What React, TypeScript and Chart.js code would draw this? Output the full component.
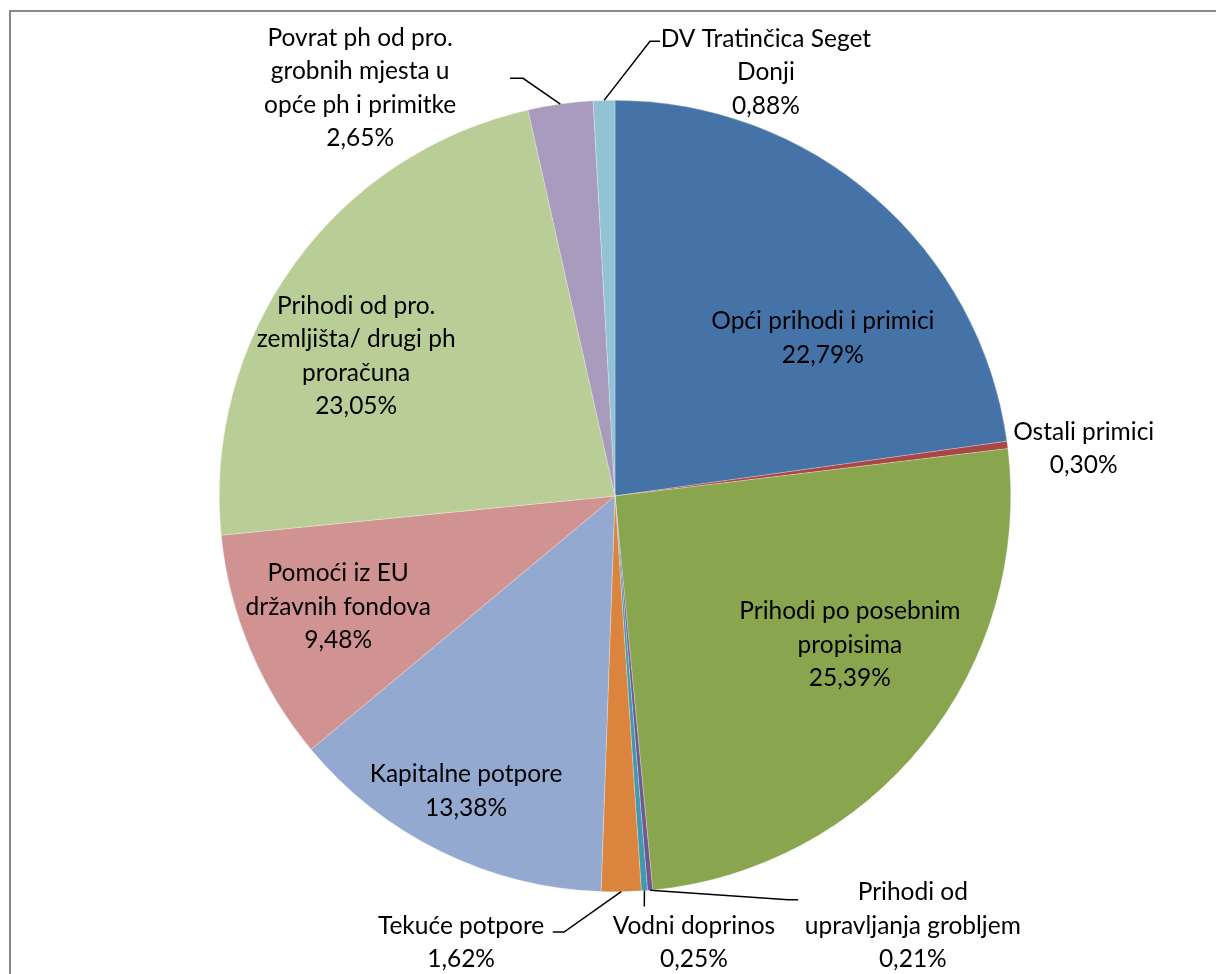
import React, { useEffect, useRef } from "react";
import { Chart, registerables } from "chart.js";

Chart.register(...registerables);

// ---- data ----
const categoryLines: string[][] = [
  ["Opći prihodi i primici"],
  ["Ostali primici"],
  ["Prihodi po posebnim", "propisima"],
  ["Prihodi od", "upravljanja grobljem"],
  ["Vodni doprinos"],
  ["Tekuće potpore"],
  ["Kapitalne potpore"],
  ["Pomoći iz EU", "državnih fondova"],
  ["Prihodi od pro.", "zemljišta/ drugi ph", "proračuna"],
  ["Povrat ph od pro.", "grobnih mjesta u", "opće ph i primitke"],
  ["DV Tratinčica Seget", "Donji"],
];
const categories: string[] = categoryLines.map((l) => l.join(" "));
const shares: number[] = [22.79, 0.3, 25.39, 0.21, 0.25, 1.62, 13.38, 9.48, 23.05, 2.65, 0.88];
const sliceColors: string[] = [
  "#4572A7", "#AA4643", "#89A54E", "#71588F", "#4198AF", "#DB843D",
  "#93A9CF", "#D19392", "#B9CD96", "#A99BBD", "#92C3D5",
];

// ---- label layout (offsets from pie centre, in px at reference radius 396) ----
const REF_R = 396;
const labelCentres: [number, number][] = [
  [208, -158], [469, -47.5], [235, 149], [298, 430], [79, 447], [-154, 447],
  [-149, 295.5], [-277, 111], [-259, -140], [-255, -408], [151, -424],
];
// leader line points after the arc point (offsets from centre), null = no leader
const leaderPoints: ([number, number][] | null)[] = [
  null, null, null,
  [[173.3, 404], [183.3, 404]],
  [[29.3, 410.7]],
  [[-51, 436.3], [-62.3, 436.3]],
  null, null, null,
  [[-92, -418], [-105, -418]],
  [[35, -455], [45, -455]],
];

const FONT_SIZE = 24.5;
const LINE_H = 33.5;
const FONT_FAMILY = "Lato, 'Noto Sans', sans-serif";

const fmtPct = (v: number) => v.toFixed(2).replace(".", ",") + "%";

const labelPlugin = {
  id: "pieLabels",
  beforeDraw(chart: any) {
    const ctx = chart.ctx;
    ctx.save();
    ctx.fillStyle = "#ffffff";
    ctx.fillRect(0, 0, chart.width, chart.height);
    ctx.strokeStyle = "#8a8a8a";
    ctx.lineWidth = 2;
    ctx.beginPath();
    ctx.moveTo(10, chart.height + 10);
    ctx.lineTo(10, 11);
    ctx.lineTo(chart.width + 10, 11);
    ctx.stroke();
    ctx.restore();
  },
  afterDatasetsDraw(chart: any) {
    const ctx = chart.ctx;
    const meta = chart.getDatasetMeta(0);
    ctx.save();
    meta.data.forEach((arc: any, i: number) => {
      const { x, y, startAngle, endAngle, outerRadius } = arc.getProps(
        ["x", "y", "startAngle", "endAngle", "outerRadius"],
        true
      );
      const k = outerRadius / REF_R;
      const mid = (startAngle + endAngle) / 2;
      const pts = leaderPoints[i];
      if (pts) {
        ctx.strokeStyle = "#000000";
        ctx.lineWidth = 1.5;
        ctx.beginPath();
        ctx.moveTo(x + outerRadius * Math.cos(mid), y + outerRadius * Math.sin(mid));
        pts.forEach(([dx, dy]) => ctx.lineTo(x + dx * k, y + dy * k));
        ctx.stroke();
      }
      const lines = [...categoryLines[i], fmtPct(shares[i])];
      const [cx, cy] = labelCentres[i];
      const lx = x + cx * k;
      const ly = y + cy * k;
      ctx.fillStyle = "#000000";
      ctx.font = `${FONT_SIZE}px ${FONT_FAMILY}`;
      ctx.textAlign = "center";
      ctx.textBaseline = "middle";
      const top = ly - ((lines.length - 1) * LINE_H) / 2;
      lines.forEach((t, j) => ctx.fillText(t, lx, top + j * LINE_H));
    });
    ctx.restore();
  },
};

export default function App() {
  const ref = useRef<HTMLCanvasElement | null>(null);
  useEffect(() => {
    if (!ref.current) return;
    const chart = new Chart(ref.current, {
      type: "pie",
      data: {
        labels: categories,
        datasets: [
          {
            data: shares,
            backgroundColor: sliceColors,
            borderColor: "rgba(255,255,255,0.5)",
            borderWidth: 0.5,
          },
        ],
      },
      options: {
        responsive: false,
        animation: false,
        layout: { padding: { top: 100, bottom: 82, left: 219, right: 205 } },
        plugins: {
          legend: { display: false },
          tooltip: { enabled: false },
          title: { display: false },
        },
      },
      plugins: [labelPlugin],
    });
    return () => chart.destroy();
  }, []);
  return (
    <div style={{ position: "absolute", left: 0, top: 0, width: 1216, height: 974, overflow: "hidden" }}>
      <canvas ref={ref} width={1216} height={974} style={{ display: "block" }} />
    </div>
  );
}
